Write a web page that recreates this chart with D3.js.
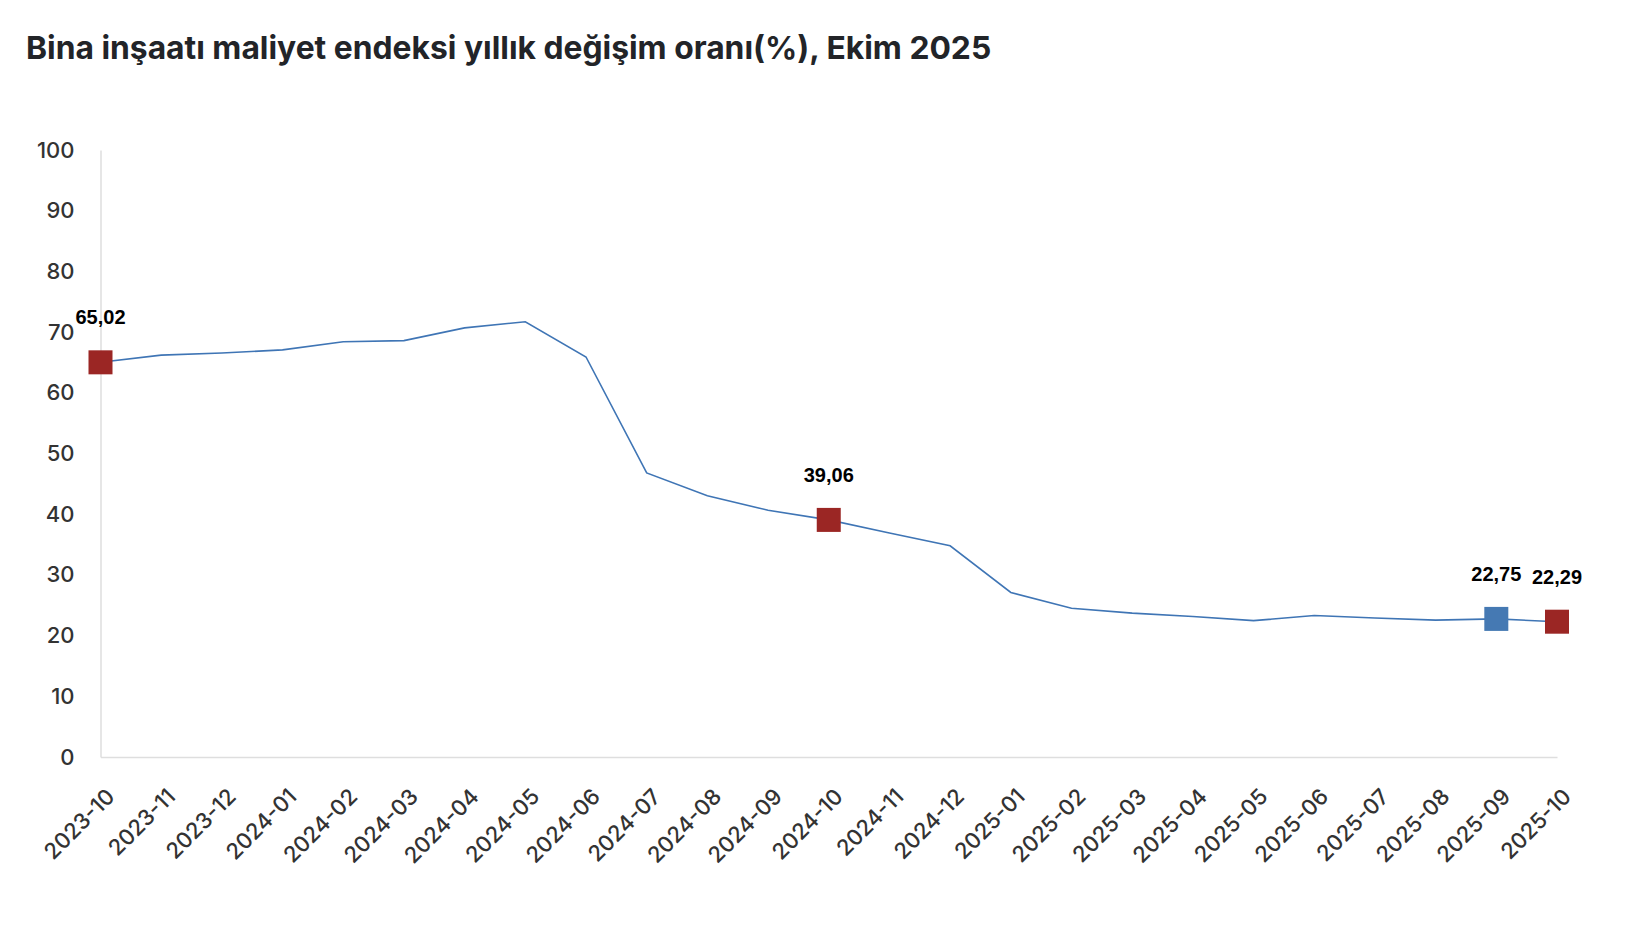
<!DOCTYPE html>
<html>
<head>
<meta charset="utf-8">
<script src="https://cdn.jsdelivr.net/npm/d3@7"></script>
<style>
  body { margin: 0; background: #fff; }
</style>
</head>
<body>
<script>
// veriler
const months = [
    '2023-10', '2023-11', '2023-12', '2024-01', '2024-02', '2024-03', '2024-04',
    '2024-05', '2024-06', '2024-07', '2024-08', '2024-09', '2024-10', '2024-11',
    '2024-12', '2025-01', '2025-02', '2025-03', '2025-04', '2025-05', '2025-06',
    '2025-07', '2025-08', '2025-09', '2025-10'
];
const values = [
    65.02, 66.2, 66.55, 67.07, 68.4, 68.6, 70.7,
    71.7, 65.9, 46.8, 43.05, 40.65, 39.06, 36.9,
    34.8, 27.1, 24.5, 23.7, 23.15, 22.47, 23.3,
    22.9, 22.55, 22.75, 22.29
];
const yTicks = [0, 10, 20, 30, 40, 50, 60, 70, 80, 90, 100];
// işaretli noktalar
const marked = [
    { month: '2023-10', label: '65,02', color: '#9b2624' },
    { month: '2024-10', label: '39,06', color: '#9b2624' },
    { month: '2025-09', label: '22,75', color: '#4579b3' },
    { month: '2025-10', label: '22,29', color: '#9b2624' }
];

const width = 1632;
const height = 926;
const margin = { top: 150, right: 75, bottom: 169, left: 100.5 };

const svg = d3.select('body')
    .append('svg')
    .attr('width', width)
    .attr('height', height);

svg.append('text')
    .attr('x', 26)
    .attr('y', 59)
    .attr('font-family', 'Inter, sans-serif')
    .attr('font-weight', 700)
    .attr('font-size', 31.8)
    .attr('fill', '#222428')
    .text('Bina inşaatı maliyet endeksi yıllık değişim oranı(%), Ekim 2025');

const xScale = d3.scalePoint()
    .domain(months)
    .range([margin.left, width - margin.right]);

const yScale = d3.scaleLinear()
    .domain([0, 100])
    .range([height - margin.bottom, margin.top]);

// y ekseni
const yAxis = d3.axisLeft(yScale).tickValues(yTicks).tickSize(0).tickPadding(26);
const gy = svg.append('g')
    .attr('transform', 'translate(' + margin.left + ',0)')
    .call(yAxis);
gy.select('.domain').attr('stroke', '#dedede').attr('stroke-width', 1.5);
gy.selectAll('text')
    .attr('font-family', 'Inter, sans-serif')
    .attr('font-size', 22)
    .attr('font-weight', 500)
    .attr('fill', '#333');

// x ekseni
const xAxis = d3.axisBottom(xScale).tickSize(0).tickPadding(0);
const gx = svg.append('g')
    .attr('transform', 'translate(0,' + (height - margin.bottom) + ')')
    .call(xAxis);
gx.select('.domain').attr('stroke', '#dedede').attr('stroke-width', 1.5);
gx.selectAll('text')
    .attr('font-family', 'Inter, sans-serif')
    .attr('font-size', 22)
    .attr('font-weight', 500)
    .attr('fill', '#333')
    .attr('text-anchor', 'end')
    .attr('dy', null)
    .attr('y', null)
    .attr('transform', 'translate(15,41) rotate(-45)');

// çizgi
const line = d3.line()
    .x((d, i) => xScale(months[i]))
    .y(d => yScale(d));

svg.append('path')
    .datum(values)
    .attr('fill', 'none')
    .attr('stroke', '#3f75b5')
    .attr('stroke-width', 1.6)
    .attr('d', line);

// işaretler
const size = 24;
const markers = svg.selectAll('.marker')
    .data(marked)
    .enter()
    .append('g')
    .attr('class', 'marker')
    .attr('transform', d => 'translate(' + xScale(d.month) + ',' + yScale(values[months.indexOf(d.month)]) + ')');

markers.append('rect')
    .attr('x', -size / 2)
    .attr('y', -size / 2)
    .attr('width', size)
    .attr('height', size)
    .attr('fill', d => d.color);

markers.append('text')
    .attr('y', -38)
    .attr('text-anchor', 'middle')
    .attr('font-family', 'Liberation Sans, Arial, sans-serif')
    .attr('font-weight', 700)
    .attr('font-size', 20)
    .attr('fill', '#000')
    .text(d => d.label);
</script>
</body>
</html>
